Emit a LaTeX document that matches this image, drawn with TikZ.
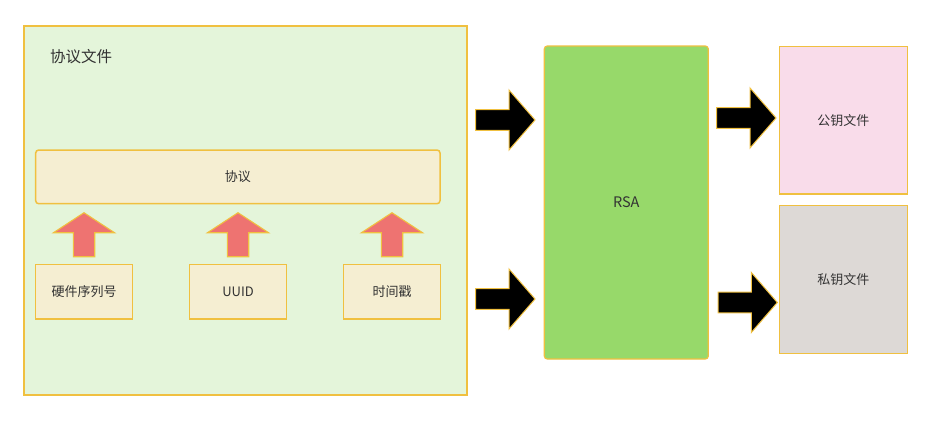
\documentclass[tikz,border=0pt]{standalone}
\usepackage{fontspec}
\setmainfont{Noto Sans CJK SC}
\usetikzlibrary{calc}
\definecolor{gold}{HTML}{F0C040}
\definecolor{outerfill}{HTML}{E4F5DA}
\definecolor{cream}{HTML}{F5EED2}
\definecolor{salmon}{HTML}{EE7371}
\definecolor{rsagreen}{HTML}{97D96A}
\definecolor{pinkfill}{HTML}{F9DCEA}
\definecolor{greyfill}{HTML}{DDD9D6}
\definecolor{txt}{HTML}{333333}
\tikzset{
  boxstyle/.style={draw=gold, line width=1.5pt, anchor=north west, inner sep=0pt, outer sep=0pt, text=txt},
  labelstyle/.style={text=txt, inner sep=0pt, font=\fontsize{13}{15}\selectfont},
  uparrowstyle/.style={draw=gold, fill=salmon, line width=1.1pt, line join=miter},
  blkarrowstyle/.style={draw=gold, fill=black, line width=1pt, line join=miter},
}
\newcommand{\myuparrow}[1]{%
  \draw[uparrowstyle, shift={(#1.north)}] (-10.7,-7.6) -- (-10.7,-31.6) -- (-30.5,-31.6) -- (0,-51.6) -- (30.5,-31.6) -- (10.7,-31.6) -- (10.7,-7.6) -- cycle;}
\newcommand{\myrightarrow}[1]{%
  \draw[blkarrowstyle, shift={(#1)}] (0,0) -- (-26,-30) -- (-26,-10.35) -- (-59.3,-10.35) -- (-59.3,10.35) -- (-26,10.35) -- (-26,30) -- cycle;}
\begin{document}
\begin{tikzpicture}[x=1pt,y=-1pt]
\useasboundingbox[fill=white] (0,0) rectangle (949,432);
% outer container
\node[boxstyle, fill=outerfill, minimum width=443pt, minimum height=369pt] (file) at (24,26) {};
\node[anchor=west, inner sep=0pt, text=txt, font=\fontsize{15.5}{17}\selectfont] (title) at (50,56.5) {协议文件};
% protocol
\node[boxstyle, fill=cream, rounded corners=3pt, minimum width=404.3pt, minimum height=53.7pt] (proto) at (35.7,150) {};
\node[labelstyle] (protolabel) at (proto.center) {协议};
% inputs
\node[boxstyle, fill=cream, minimum width=96.6pt, minimum height=54.7pt] (hw) at (35.7,264.3) {};
\node[labelstyle] (hwlabel) at (hw.center) {硬件序列号};
\node[boxstyle, fill=cream, minimum width=96.6pt, minimum height=54.7pt] (uuid) at (189.7,264.3) {};
\node[labelstyle] (uuidlabel) at (uuid.center) {UUID};
\node[boxstyle, fill=cream, minimum width=96.6pt, minimum height=54.7pt] (ts) at (343.7,264.3) {};
\node[labelstyle] (tslabel) at (ts.center) {时间戳};
\myuparrow{hw}
\myuparrow{uuid}
\myuparrow{ts}
% RSA
\node[boxstyle, fill=rsagreen, rounded corners=3pt, line width=1.2pt, minimum width=164pt, minimum height=313pt] (rsa) at (544.3,46) {};
\node[labelstyle, font=\fontsize{14.5}{16}\selectfont] (rsalabel) at (rsa.center) {RSA};
% outputs
\node[boxstyle, fill=pinkfill, minimum width=128pt, minimum height=147.3pt] (pub) at (779.3,46.7) {};
\node[labelstyle] (publabel) at (pub.center) {公钥文件};
\node[boxstyle, fill=greyfill, minimum width=128pt, minimum height=147.6pt] (priv) at (779.3,205.7) {};
\node[labelstyle] (privlabel) at (priv.center) {私钥文件};
% block arrows
\coordinate (a1) at (535,120);
\coordinate (a2) at (535,299);
\coordinate (a3) at (776,118);
\coordinate (a4) at (777.3,302.5);
\myrightarrow{a1}
\myrightarrow{a2}
\myrightarrow{a3}
\myrightarrow{a4}
\end{tikzpicture}
\end{document}
